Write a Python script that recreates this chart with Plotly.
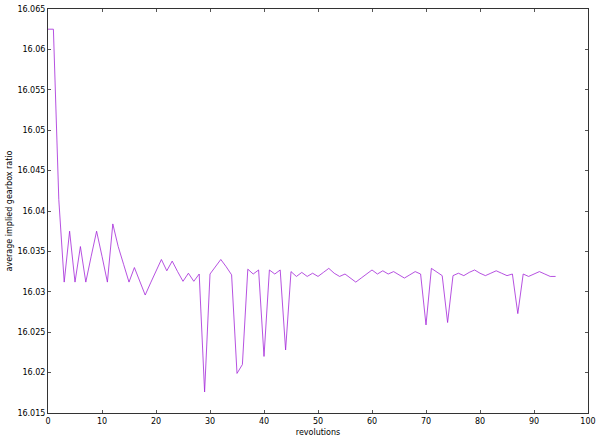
import plotly.graph_objects as go

revolutions = list(range(0, 95))
ratio = [
    16.0625, 16.0625, 16.0414, 16.0312, 16.0375, 16.0312, 16.0356, 16.0312, 16.0344, 16.0375,
    16.0344, 16.0312, 16.0384, 16.0356, 16.0334, 16.0312, 16.0330, 16.0313, 16.0296, 16.0311,
    16.0326, 16.0340, 16.0326, 16.0338, 16.0325, 16.0313, 16.0323, 16.0313, 16.0322, 16.0176,
    16.0322, 16.0331, 16.0340, 16.0331, 16.0321, 16.0199, 16.0210, 16.0328, 16.0322, 16.0327,
    16.0220, 16.0327, 16.0322, 16.0327, 16.0228, 16.0325, 16.0319, 16.0324, 16.0319, 16.0323,
    16.0319, 16.0324, 16.0329, 16.0323, 16.0319, 16.0322, 16.0317, 16.0312, 16.0317, 16.0322,
    16.0327, 16.0322, 16.0326, 16.0322, 16.0325, 16.0321, 16.0317, 16.0321, 16.0325, 16.0322,
    16.0259, 16.0329, 16.0325, 16.0320, 16.0262, 16.0320, 16.0323, 16.0320, 16.0324, 16.0327,
    16.0323, 16.0320, 16.0323, 16.0326, 16.0323, 16.0320, 16.0322, 16.0273, 16.0322, 16.0319,
    16.0322, 16.0325, 16.0322, 16.0319, 16.0319,
]
x_ticks = list(range(0, 101, 10))
y_ticks = [16.015, 16.02, 16.025, 16.03, 16.035, 16.04, 16.045, 16.05, 16.055, 16.06, 16.065]
y_tick_labels = ["16.015", "16.02", "16.025", "16.03", "16.035", "16.04", "16.045", "16.05", "16.055", "16.06", "16.065"]

FONT = dict(family="DejaVu Sans, sans-serif", size=8, color="black")

fig = go.Figure(go.Scatter(
    x=revolutions, y=ratio, mode="lines",
    line=dict(color="#9400D3", width=0.8), opacity=0.85, showlegend=False,
))

axis_common = dict(
    showline=True, linecolor="#333333", linewidth=1, mirror="allticks",
    ticks="inside", ticklen=3, tickcolor="#555555", showgrid=False, zeroline=False,
    tickfont=FONT, automargin=False,
)
fig.update_xaxes(range=[0, 100], tickvals=x_ticks,
                 title=dict(text="revolutions", font=FONT, standoff=4), **axis_common)
fig.update_yaxes(range=[16.015, 16.065], tickvals=y_ticks, ticktext=y_tick_labels,
                 title=dict(text="average implied gearbox ratio", font=FONT, standoff=3), **axis_common)

fig.update_layout(
    width=600, height=440,
    margin=dict(l=48, r=12, t=9, b=27),
    plot_bgcolor="white", paper_bgcolor="white",
)
fig.write_html("out.html", config={"displayModeBar": False},
               post_script="document.body.style.margin='0px';")
